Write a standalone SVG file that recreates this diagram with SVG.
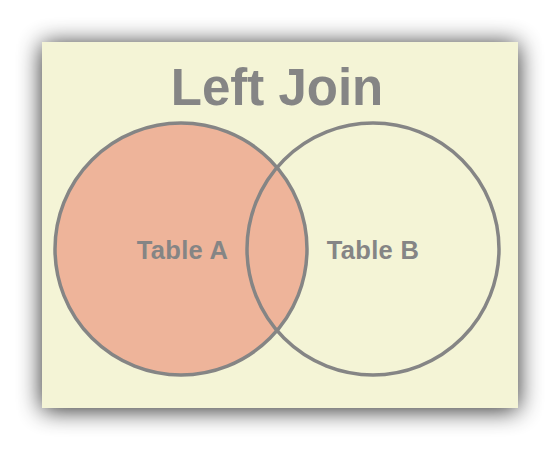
<svg xmlns="http://www.w3.org/2000/svg" width="560" height="451" viewBox="0 0 560 451">
<defs>
<filter id="sh" x="-25%" y="-25%" width="150%" height="150%">
<feGaussianBlur in="SourceAlpha" stdDeviation="12"/>
<feOffset dx="0" dy="2" result="b"/>
<feComponentTransfer><feFuncA type="linear" slope="0.85"/></feComponentTransfer>
<feMerge><feMergeNode/><feMergeNode in="SourceGraphic"/></feMerge>
</filter>
<style>
.c{stroke:#858585;stroke-width:3.5}
.t{font-family:"Liberation Sans",Arial,sans-serif;font-weight:bold;fill:#858585;text-anchor:middle}
</style>
</defs>
<rect width="560" height="451" fill="#ffffff"/>
<rect id="card" x="42" y="42" width="476" height="366" fill="#f4f4d6" filter="url(#sh)"/>
<g id="title"><text class="t" x="277" y="105" font-size="51">Left Join</text></g>
<g id="tableA"><circle cx="181" cy="249" r="126" fill="#eeb49a"/></g>
<g id="intersection">
<path d="M277,167.4 A126,126 0 0 1 277,330.6 A126,126 0 0 1 277,167.4 Z" fill="#eeb49a"/>
</g>
<g id="connectors">
<circle class="c" cx="181" cy="249" r="126" fill="none"/>
<circle class="c" cx="373" cy="249" r="126" fill="none"/>
</g>
<text class="t" x="182.5" y="259" font-size="25.5" letter-spacing="0.3">Table A</text>
<text class="t" x="373" y="259" font-size="25.5" letter-spacing="0.3">Table B</text>
</svg>
